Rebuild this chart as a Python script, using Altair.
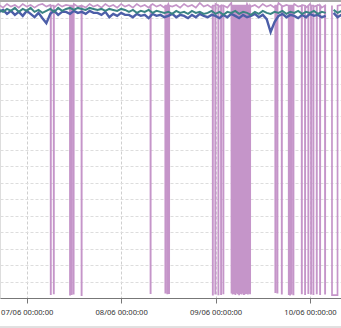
import altair as alt
import pandas as pd

# hourly samples starting 06/06 17:00
start_time = "2021-06-06 17:00"
n_samples = 88

teal = [87.3, 86.7, 87.6, 87.0, 87.9, 86.7, 87.6, 87.0, 87.9, 86.7, 87.3,
        86.4, 87.0,
        87.6, 86.7, 87.9, 87.0,
        87.6, 87.9, 87.3, 87.9, 87.6, 87.3, 87.9, 87.6,
        87.3, 87.6, 87.0, 87.6, 87.3, 87.0, 87.6, 87.3,
        86.7, 87.3, 86.4, 87.0, 86.7, 87.3, 86.4, 87.0, 86.7, 86.4,
        86.7, 86.1, 87.0, 86.4, 86.7, 86.1, 87.0, 86.4, 86.7, 86.1,
        86.4, 87.0, 86.1, 86.7, 85.8, 86.7, 86.4, 87.0, 86.1, 86.7, 86.4, 85.8, 86.7, 86.1, 87.0,
        86.4, 86.1, 86.7,
        86.4, 87.0, 86.1, 86.7, 86.4, 87.0, 86.1, 86.7, 86.4, 87.0, 86.1, 86.7,
        86.4,
        None,
        87.3, 86.4, 87.0]

blue = [86.7, 87.3, 86.1, 87.0, 85.8, 86.7, 85.5, 87.0, 86.1, 85.1, 86.4,
        84.8, 83.3,
        86.1, 87.0, 85.8, 86.7,
        86.7, 86.1, 87.0, 86.4, 86.7, 86.1, 87.0, 86.4,
        86.4, 85.8, 86.7, 85.1, 86.1, 85.5, 86.4, 85.8,
        85.8, 85.1, 86.1, 85.5, 85.8, 84.8, 86.1, 85.5, 85.8, 85.1,
        85.5, 86.1, 85.1, 85.8, 85.5, 84.8, 85.8, 85.1, 86.1, 85.5,
        85.1, 85.8, 85.5, 84.8, 85.8, 85.1, 86.1, 85.5, 84.8, 85.8, 85.1, 85.5, 86.1, 85.1, 85.8,
        84.5, 80.6, 83.6,
        85.5, 86.1, 85.1, 85.8, 85.5, 84.8, 85.8, 85.1, 86.1, 85.5, 85.8, 85.1,
        85.5,
        None,
        86.4, 85.1, 85.8]

purple = [88.8, 88.0, 89.1, 88.3, 88.8, 88.0, 89.1, 88.3, 88.8, 88.0, 88.8,
          89.1, 88.3, 88.8, 88.0, 89.1, 88.3, 88.8, 88.0, 89.1, 88.3, 88.8,
          88.0, 89.1, 88.3, 88.8, 88.0, 89.1, 88.3, 88.8, 88.0, 89.1, 88.3,
          88.8, 88.0, 89.1, 88.3, 88.8, 88.0, 89.1, 88.3, 88.8, 88.0, 89.1,
          88.3, 88.8, 88.0, 89.1, 88.3, 88.8, 88.0, 89.4, 88.3, 88.8, 88.0,
          89.1, 88.3, 88.8, 88.0, 89.4, 88.3, 88.8, 88.0, 89.1, 88.3, 88.8,
          88.0, 89.1, 88.3, 88.8, 88.0, 89.4, 88.3, 88.8, 88.0, 89.1, 88.3,
          88.8, 88.0, 89.1, 88.3, 88.8, 88.0, 88.8,
          None,
          88.3, 89.1, 88.8]

# purple drop-outs: (start, duration in minutes, low value)
drops = [
    ("2021-06-07 06:06", 3, 1.2), ("2021-06-07 06:52", 3, 1.4),
    ("2021-06-07 11:00", 3, 1.0), ("2021-06-07 11:23", 3, 1.2),
    ("2021-06-07 11:54", 3, 1.3), ("2021-06-07 13:56", 3, 0.9),
    ("2021-06-08 07:28", 3, 1.5), ("2021-06-08 11:14", 3, 1.6),
    ("2021-06-08 11:44", 3, 1.4), ("2021-06-08 12:10", 3, 1.5),
    ("2021-06-08 23:17", 3, 1.0), ("2021-06-08 23:55", 3, 1.3),
    ("2021-06-09 00:42", 3, 1.1), ("2021-06-09 01:23", 3, 1.2),
    ("2021-06-09 01:58", 3, 1.4),
    ("2021-06-09 04:03", 3, 1.6), ("2021-06-09 04:20", 3, 1.3),
    ("2021-06-09 04:42", 3, 1.5), ("2021-06-09 05:01", 3, 1.2),
    ("2021-06-09 05:17", 3, 1.6), ("2021-06-09 05:40", 3, 1.4),
    ("2021-06-09 05:58", 3, 1.1), ("2021-06-09 06:15", 3, 1.5),
    ("2021-06-09 06:37", 3, 1.3), ("2021-06-09 06:55", 3, 1.6),
    ("2021-06-09 07:12", 3, 1.2), ("2021-06-09 07:33", 3, 1.4),
    ("2021-06-09 07:50", 3, 1.5), ("2021-06-09 08:12", 3, 1.3),
    ("2021-06-09 08:30", 3, 1.6), ("2021-06-09 08:45", 3, 1.4),
    ("2021-06-09 15:11", 3, 1.8), ("2021-06-09 15:42", 3, 1.6),
    ("2021-06-09 16:49", 3, 1.3), ("2021-06-09 18:36", 3, 1.2),
    ("2021-06-09 18:55", 3, 1.0), ("2021-06-09 19:15", 3, 1.3),
    ("2021-06-09 19:46", 3, 1.1), ("2021-06-09 21:54", 3, 1.4),
    ("2021-06-09 22:44", 3, 1.2), ("2021-06-09 23:34", 3, 1.5),
    ("2021-06-10 00:16", 3, 1.3), ("2021-06-10 00:51", 3, 1.2),
    ("2021-06-10 01:42", 3, 1.4), ("2021-06-10 02:33", 3, 1.2),
    ("2021-06-10 03:49", 3, 1.3), ("2021-06-10 05:36", 84, 0.9),
]
drop_top = 88.6

day_ticks = ["2021-06-07", "2021-06-08", "2021-06-09", "2021-06-10"]
x_domain = ["2021-06-06 17:13", "2021-06-10 07:53"]

times = pd.date_range(start_time, periods=n_samples, freq="h")
fmt = "%Y-%m-%dT%H:%M:%S"

lines_df = pd.DataFrame({
    "t": list(times.strftime(fmt)) * 2,
    "v": teal + blue,
    "s": ["teal"] * n_samples + ["blue"] * n_samples,
})

# purple: hourly baseline with drop-outs merged in
intervals = []
pp = []
one = pd.Timedelta(minutes=1)
for s, dur, low in drops:
    t0 = pd.Timestamp(s)
    t1 = t0 + pd.Timedelta(minutes=dur)
    intervals.append((t0 - one, t1 + one))
    pp += [(t0 - one, drop_top), (t0, low), (t1, low), (t1 + one, drop_top)]
for t, v in zip(times, purple):
    if not any(a <= t <= b for a, b in intervals):
        pp.append((t, v))
pp.sort(key=lambda r: r[0])
purple_df = pd.DataFrame({"t": [r[0].strftime(fmt) for r in pp], "v": [r[1] for r in pp]})

x_enc = alt.X("t:T", scale=alt.Scale(domain=[pd.Timestamp(d).strftime(fmt) for d in x_domain]),
              axis=alt.Axis(values=[alt.DateTime(year=2021, month=6, date=int(d[-2:])) for d in day_ticks],
                            format="%d/%m %H:%M:%S", title=None, grid=True, gridDash=[3, 2],
                            gridColor="#cfcfcf", domainColor="#777777", tickColor="#777777",
                            tickSize=5, labelFont="Noto Sans", labelFontSize=7.6,
                            labelColor="#333333", labelPadding=5, labelOverlap=False,
                            labelFlush=False))
y_enc = alt.Y("v:Q", scale=alt.Scale(domain=[0, 90], nice=False, zero=False),
              axis=alt.Axis(values=list(range(0, 91, 5)), labels=False, ticks=False, domain=False,
                            title=None, grid=True, gridDash=[3, 2], gridColor="#dddddd"))

purple_line = alt.Chart(purple_df).mark_line(color="#c595c9", strokeWidth=1.7, clip=True).encode(x=x_enc, y=y_enc)
blue_line = alt.Chart(lines_df).transform_filter(alt.datum.s == "blue").mark_line(
    color="#4c5ea8", strokeWidth=2.4, clip=True).encode(x=x_enc, y=y_enc)
teal_line = alt.Chart(lines_df).transform_filter(alt.datum.s == "teal").mark_line(
    color="#3a8383", strokeWidth=2.0, clip=True).encode(x=x_enc, y=y_enc)

top_rule = alt.Chart(purple_df).mark_rule(color="#aaaaaa", strokeWidth=1).encode(
    y=alt.value(0), x=alt.value(0), x2=alt.value(341))
bottom_rule = alt.Chart(purple_df).mark_rule(color="#e0e0e0", strokeWidth=1).encode(
    y=alt.value(326), x=alt.value(0), x2=alt.value(341))

chart = alt.layer(purple_line, blue_line, teal_line, top_rule, bottom_rule).properties(
    width=341, height=297,
    padding={"left": 0, "top": 1, "right": 0, "bottom": 30},
    autosize=alt.AutoSizeParams(type="none"),
).configure_view(stroke=None).configure(background="white")

chart.save("out.html", embed_options={"renderer": "svg", "actions": False})
